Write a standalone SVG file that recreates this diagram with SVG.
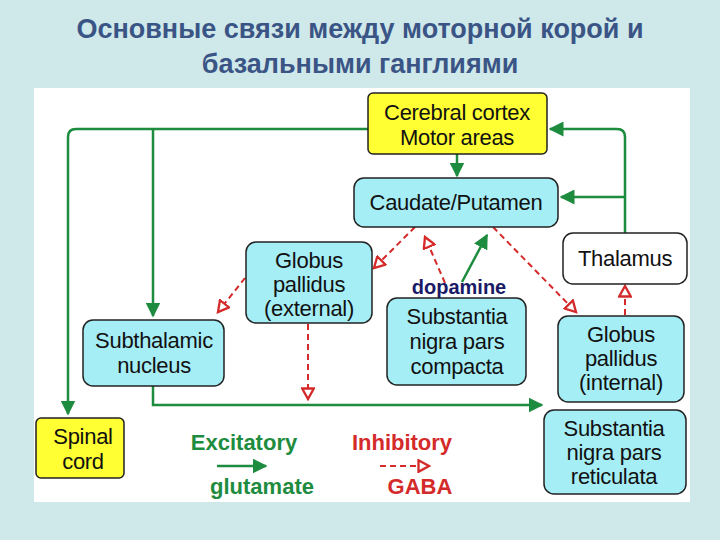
<svg xmlns="http://www.w3.org/2000/svg" width="720" height="540" viewBox="0 0 720 540">
<defs>
<style>
.t{font-family:"Liberation Sans",Arial,sans-serif;font-size:22px;fill:#111;text-anchor:middle;letter-spacing:-0.3px}
.b{stroke:#222;stroke-width:1.5}
.cy{fill:#a6eef6}
.ye{fill:#ffff33}
.g{stroke:#1e8c3e;stroke-width:2.5;fill:none}
.r{stroke:#d42a2a;stroke-width:2;fill:none;stroke-dasharray:6,4}
.ti{font-family:"Liberation Sans",Arial,sans-serif;font-size:27px;font-weight:bold;fill:#3a5585;text-anchor:middle}
</style>
<marker id="ga" viewBox="0 0 10 10" refX="9" refY="5" markerWidth="6" markerHeight="6" orient="auto" markerUnits="strokeWidth"><path d="M0,0L10,5L0,10z" fill="#1e8c3e"/></marker>
<marker id="ra" viewBox="0 0 12 12" refX="10" refY="6" markerWidth="7" markerHeight="7" orient="auto" markerUnits="strokeWidth"><path d="M1,1L10,6L1,11z" fill="#fff" stroke="#d42a2a" stroke-width="2"/></marker>
</defs>
<rect width="720" height="540" fill="#cfe8ea"/>
<rect x="34" y="88" width="656" height="414" fill="#fff"/>
<text class="ti" x="360" y="38">Основные связи между моторной корой и</text>
<text class="ti" x="360" y="73">базальными ганглиями</text>
<g id="connectors">
<path class="g" d="M368,129H76Q68,129 68,137V414" marker-end="url(#ga)"/>
<path class="g" d="M153,129V316" marker-end="url(#ga)"/>
<path class="g" d="M457,154V176" marker-end="url(#ga)"/>
<path class="g" d="M625,233V137Q625,129 617,129H550" marker-end="url(#ga)"/>
<path class="g" d="M625,197H561" marker-end="url(#ga)"/>
<path class="g" d="M153,386V405H542" marker-end="url(#ga)"/>
<path class="g" stroke-width="2" d="M462,282L487,235" marker-end="url(#ga)"/>
<path class="r" d="M415,227L374,268" marker-end="url(#ra)"/>
<path class="r" d="M445,283L425,237" marker-end="url(#ra)"/>
<path class="r" d="M493,227L576,312" marker-end="url(#ra)"/>
<path class="r" d="M245,278L218,312" marker-end="url(#ra)"/>
<path class="r" d="M308,324V399" marker-end="url(#ra)"/>
<path class="r" d="M625,315V286" marker-end="url(#ra)"/>
<path class="g" d="M217,466H266" marker-end="url(#ga)"/>
<path class="r" d="M380,466H429" marker-end="url(#ra)"/>
</g>
<g id="cortex"><rect class="b ye" x="368" y="93" width="179" height="61" rx="5"/><text class="t" x="457" y="120">Cerebral cortex</text><text class="t" x="457" y="145">Motor areas</text></g>
<g id="caudate"><rect class="b cy" x="354" y="178" width="204" height="49" rx="10"/><text class="t" x="456" y="210">Caudate/Putamen</text></g>
<g id="gpe"><rect class="b cy" x="246" y="242" width="126" height="81" rx="10"/><text class="t" x="309" y="268">Globus</text><text class="t" x="309" y="292">pallidus</text><text class="t" x="309" y="316">(external)</text></g>
<g id="thalamus"><rect class="b" fill="#fff" x="563" y="233" width="124" height="51" rx="10"/><text class="t" x="625" y="266">Thalamus</text></g>
<g id="stn"><rect class="b cy" x="83" y="320" width="141" height="66" rx="10"/><text class="t" x="154" y="348">Subthalamic</text><text class="t" x="154" y="373">nucleus</text></g>
<g id="dopamine"><text x="459" y="294" font-family="Liberation Sans,Arial,sans-serif" font-size="20" font-weight="bold" fill="#1a1a66" text-anchor="middle">dopamine</text></g>
<g id="snc"><rect class="b cy" x="387" y="298" width="139" height="87" rx="10"/><text class="t" x="457" y="324">Substantia</text><text class="t" x="457" y="349">nigra pars</text><text class="t" x="457" y="374">compacta</text></g>
<g id="gpi"><rect class="b cy" x="558" y="316" width="126" height="86" rx="10"/><text class="t" x="621" y="342">Globus</text><text class="t" x="621" y="366">pallidus</text><text class="t" x="621" y="390">(internal)</text></g>
<g id="spinal"><rect class="b ye" x="36" y="418" width="88" height="60" rx="5"/><text class="t" x="83" y="444">Spinal</text><text class="t" x="83" y="469">cord</text></g>
<g id="snr"><rect class="b cy" x="544" y="410" width="142" height="84" rx="10"/><text class="t" x="614" y="436">Substantia</text><text class="t" x="614" y="460">nigra pars</text><text class="t" x="614" y="484">reticulata</text></g>
<g id="legend" font-family="Liberation Sans,Arial,sans-serif" font-size="22" font-weight="bold" text-anchor="middle">
<text x="244" y="450" fill="#1e8c3e">Excitatory</text>
<text x="262" y="494" fill="#1e8c3e">glutamate</text>
<text x="402" y="450" fill="#d42a2a">Inhibitory</text>
<text x="420" y="494" fill="#d42a2a">GABA</text>
</g>
</svg>
